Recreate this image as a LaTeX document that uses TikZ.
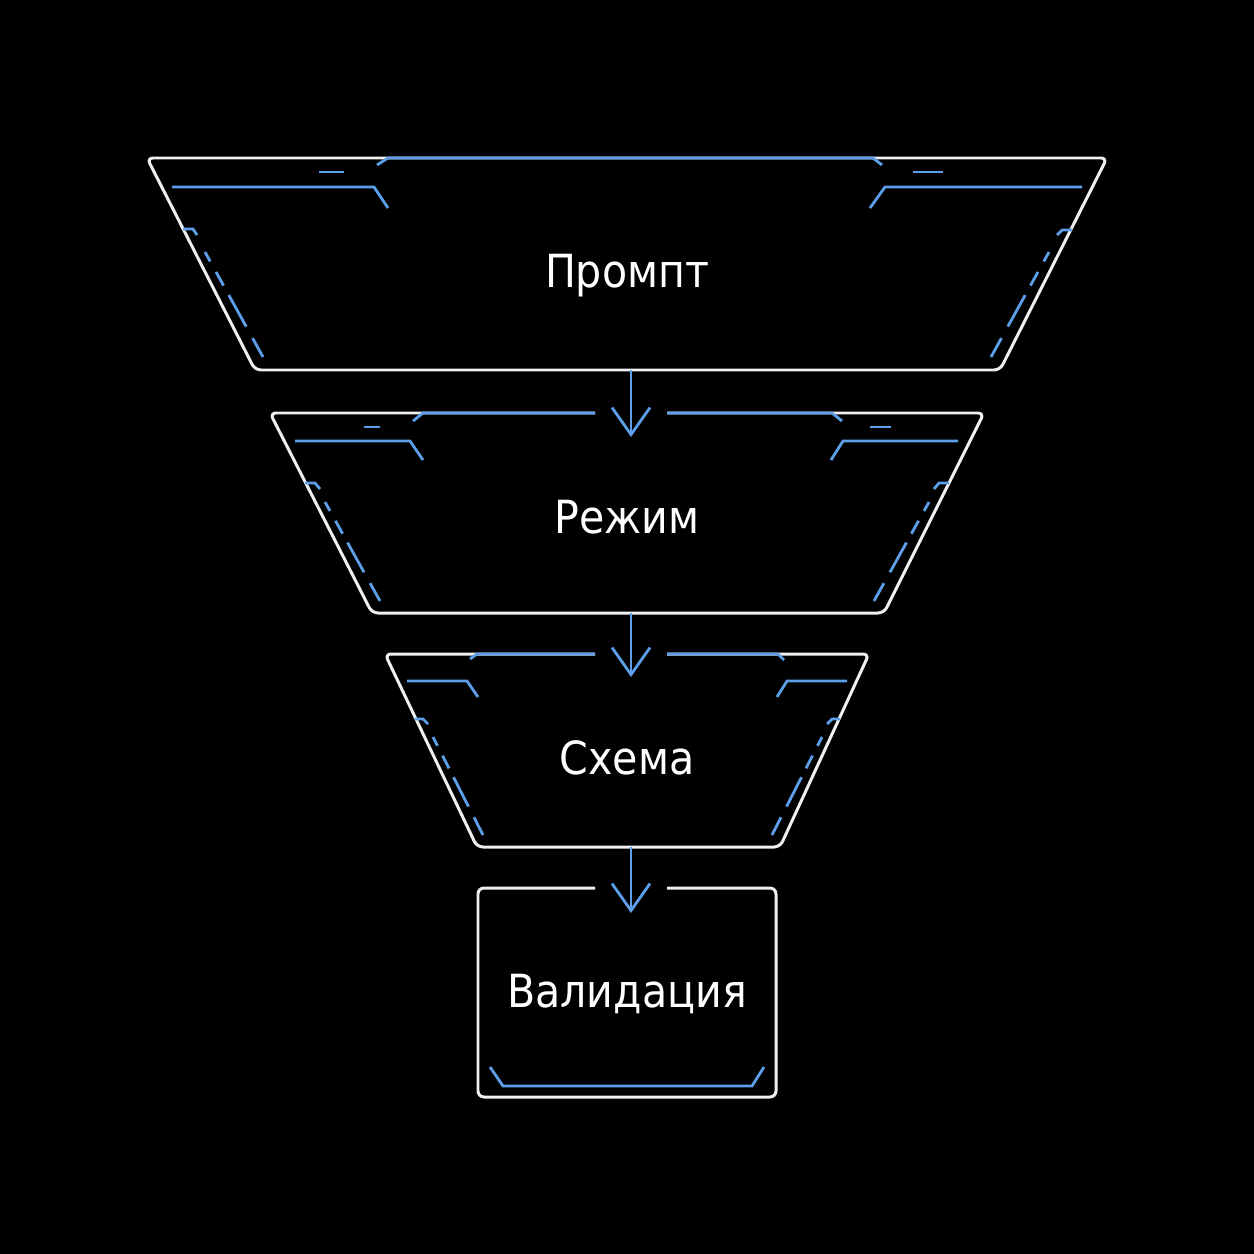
\documentclass[tikz,border=0pt]{standalone}
\usepackage{fontspec}
\newfontfamily\stagefont[FakeStretch=0.9]{DejaVu Sans}
\usetikzlibrary{calc,arrows.meta}

\definecolor{accentblue}{RGB}{92,158,232}
\definecolor{edgewhite}{RGB}{240,240,240}

\tikzset{
  outline/.style={draw=edgewhite, line width=1.7pt, rounded corners=0.12cm},
  accent/.style={draw=accentblue, line width=1.6pt},
  flow/.style={accent, -{Straight Barb[length=0.54cm, width=0.76cm]}},
  stage/.style={text=white, font=\stagefont\fontsize{26}{30}\selectfont, anchor=base}
}

\begin{document}
\begin{tikzpicture}[x=0.02cm, y=-0.02cm]

% Background
\fill[black] (0,0) rectangle (1254,1254);

% Arrow points between the stages
\coordinate (A1s) at (631,370);
\coordinate (A1e) at (631,437);
\coordinate (A2s) at (631,613);
\coordinate (A2e) at (631,677);
\coordinate (A3s) at (631,847);
\coordinate (A3e) at (631,913);

% Dashed side lines (start and end)
\coordinate (L1a) at (205,252);
\coordinate (L1b) at (263,357);
\coordinate (R1a) at (1049,252);
\coordinate (R1b) at (991,357);
\coordinate (L2a) at (325,502);
\coordinate (L2b) at (380,601);
\coordinate (R2a) at (929,502);
\coordinate (R2b) at (874,601);
\coordinate (L3a) at (433,737);
\coordinate (L3b) at (483,835);
\coordinate (R3a) at (822,737);
\coordinate (R3b) at (772,835);

% Stage 1 outline
\draw[outline] (147,158) -- (1107,158) -- (1000,370) -- (255,370) -- cycle;
\draw[accent] (377,165) -- (388,158) -- (873,158) -- (882,165);
\draw[accent] (172,187) -- (374,187) -- (388,208);
\draw[accent] (1082,187) -- (885,187) -- (870,208);
\draw[accent] (319,172) -- (344,172);
\draw[accent] (913,172) -- (943,172);
\draw[accent] (183,229) -- (193,229) -- (197,235);
\draw[accent] (1072,230) -- (1062,230) -- (1057,235);

% Stage 2 outline (open where the arrow comes in)
\draw[outline] (595,413) -- (270,413) -- (372,613) -- (884,613) -- (984,413) -- (667,413);
\draw[accent] (413,421) -- (423,413) -- (595,413);
\draw[accent] (667,413) -- (832,413) -- (842,421);
\draw[accent] (295,441) -- (410,441) -- (423,460);
\draw[accent] (958,441) -- (843,441) -- (831,460);
\draw[accent] (364,427) -- (380,427);
\draw[accent] (870,427) -- (891,427);
\draw[accent] (305,483) -- (315,483) -- (320,489);
\draw[accent] (949,483) -- (939,483) -- (934,489);

% Stage 3 outline
\draw[outline] (595,654) -- (385,654) -- (477,847) -- (780,847) -- (869,654) -- (667,654);
\draw[accent] (470,659) -- (477,654) -- (595,654);
\draw[accent] (667,654) -- (778,654) -- (784,660);
\draw[accent] (407,681) -- (467,681) -- (478,697);
\draw[accent] (847,681) -- (787,681) -- (777,697);
\draw[accent] (415,719) -- (423,719) -- (428,724);
\draw[accent] (840,719) -- (832,719) -- (827,724);

% Stage 4 box
\draw[outline] (595,888) -- (478,888) -- (478,1097) -- (776,1097) -- (776,888) -- (667,888);
\draw[accent] (490,1067) -- (503,1086) -- (752,1086) -- (764,1067);

% Dashes along the slanted sides
\foreach \side in {L1,R1,L2,R2,L3,R3} {
  \foreach \a/\b in {0/0.09, 0.19/0.32, 0.41/0.71, 0.82/1}
    \draw[accent] ($(\side a)!\a!(\side b)$) -- ($(\side a)!\b!(\side b)$);
}

% Labels
\node[stage] (prompt) at (627,287) {Промпт};
\node[stage] (mode) at (627,533) {Режим};
\node[stage] (scheme) at (627,774) {Схема};
\node[stage] (validation) at (627,1007) {Валидация};

% Arrows
\draw[flow] (A1s) -- (A1e);
\draw[flow] (A2s) -- (A2e);
\draw[flow] (A3s) -- (A3e);

\end{tikzpicture}
\end{document}
